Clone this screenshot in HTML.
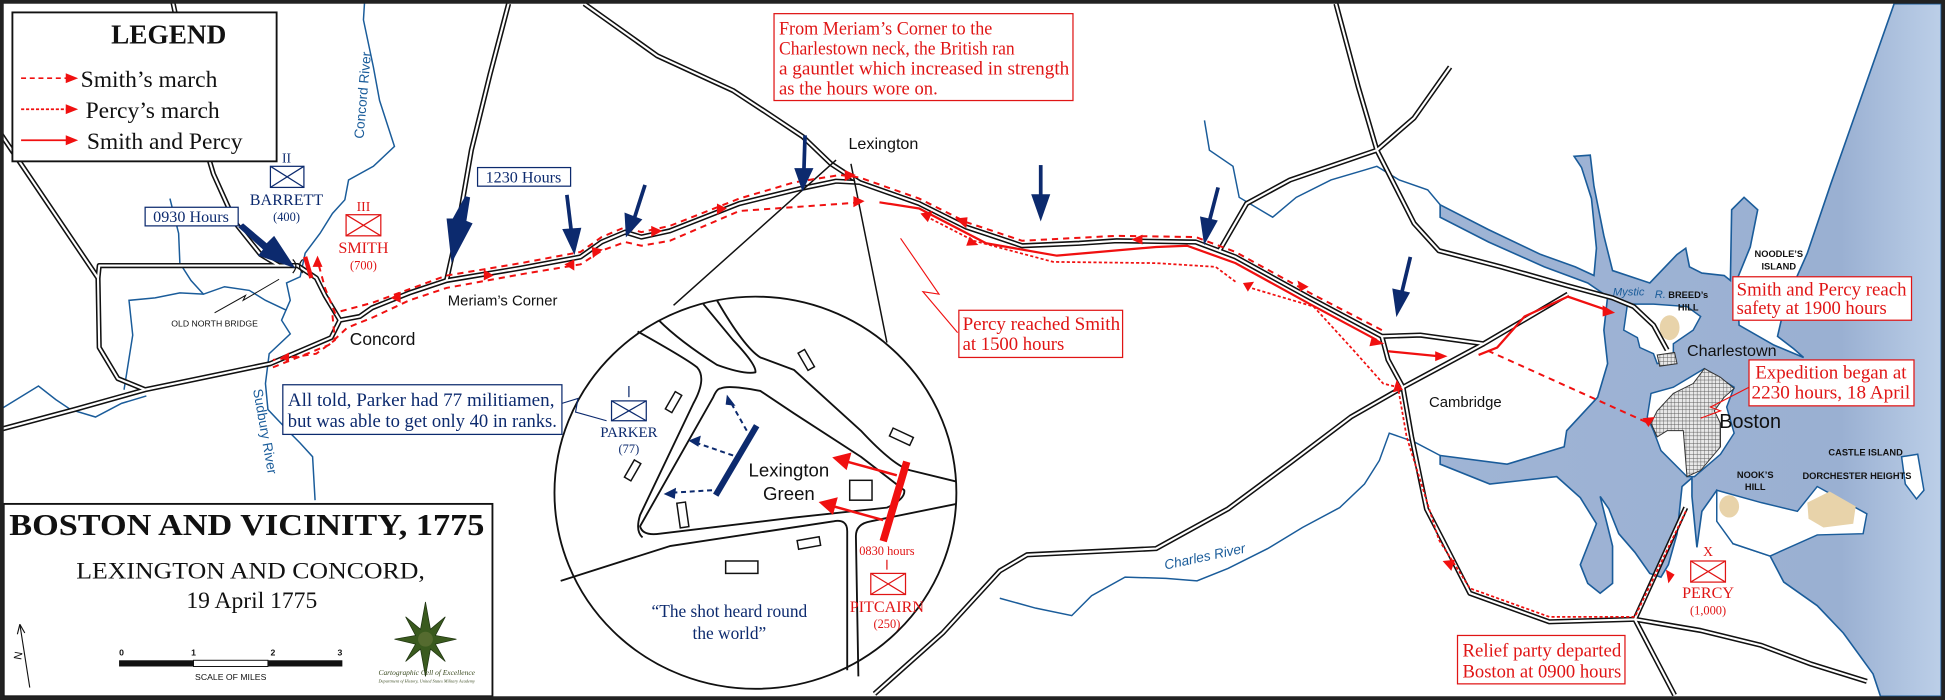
<!DOCTYPE html>
<html><head><meta charset="utf-8"><style>
html,body{margin:0;padding:0;background:#fff;}
svg{display:block;}
.sf{font-family:"Liberation Serif",serif;}
.ss{font-family:"Liberation Sans",sans-serif;}
</style></head><body>
<svg width="1945" height="700" viewBox="0 0 1568 564" preserveAspectRatio="none" xmlns="http://www.w3.org/2000/svg">
<defs>
<linearGradient id="sea" x1="0" y1="0" x2="1" y2="0">
<stop offset="0" stop-color="#9fb4d5"/><stop offset="0.8" stop-color="#9ab0d2"/><stop offset="1" stop-color="#bccfe8"/>
</linearGradient>
<pattern id="hatch" width="3" height="3" patternUnits="userSpaceOnUse">
<rect width="3" height="3" fill="#e8e8e8"/><path d="M0,0H3M0,0V3" stroke="#555" stroke-width="0.7"/>
</pattern>
<path id="r1" d="M0,346 L60,330 L117,314 L218,293 L267,272 L274,258 L290,255 L300,248 L330,236 L360,226 L420,216 L468,207 L485,195 L504,187 L517,191 L540,186 L596,164 L645,152 L674,146 L693,147 L741,164 L779,183 L824,198 L870,196 L900,194 L964,195 L996,207 L1056,240 L1114,271 L1145,270 L1196,277 L1264,237"/>
<path id="r2" d="M274,258 L262,238 L255,224 L240,214 L80,214 L79,224"/>
<path id="r3" d="M0,107 L79,224 L80,280 L95,305 L117,314"/>
<path id="r4" d="M139,0 L160,100 L172,140 L190,180 L210,205 L225,214"/>
<path id="r5" d="M360,226 L368,190 L380,121 L395,60 L410,3"/>
<path id="r6" d="M471,3 L530,45 L591,73 L620,92 L647,110 L670,132 L693,147"/>
<path id="r7" d="M1077,3 L1095,70 L1110,121 L1140,180 L1160,202 L1210,215 L1263,230 L1300,240 L1317,247 L1333,262 L1344,282"/>
<path id="r8" d="M1169,54 L1140,95 L1110,121 L1040,145 L1005,164 L983,202"/>
<path id="r9" d="M1114,271 L1119,290 L1131,312 L1089,336 L1040,373 L990,410 L932,442 L828,447 L806,460 L760,510 L705,559"/>
<path id="r10" d="M1131,312 L1196,277"/>
<path id="r11" d="M1131,312 L1138,352 L1150,410 L1163,435 L1185,478 L1249,501 L1318,499 L1359,409"/>
<path id="r12" d="M1318,499 L1350,560"/>
<path id="r13" d="M1318,499 L1371,508 L1420,520 L1460,535 L1505,549"/>
</defs>
<rect x="0" y="0" width="1568" height="564" fill="#fff"/>
<!-- water -->
<path d="M1527,3 L1565,3 L1565,561 L1516,561 L1510,543 L1486,510 L1465,488 L1438,469 L1427,448 L1397,438 L1395,428 L1403,411 L1384,395 L1372,412 L1368,441 L1364,400 L1364,385 L1356,392 L1352,430 L1345,455 L1339,465 L1330,462 L1318,445 L1305,430 L1297,410 L1290,400 L1300,440 L1300,470 L1290,478 L1280,470 L1274,455 L1287,422 L1274,401 L1255,384 L1201,390 L1161,374 L1161,367 L1215,374 L1261,360 L1263,347 L1288,320 L1296,293 L1293,266 L1296,239 L1280,228 L1245,215 L1200,195 L1161,175 L1161,165 L1200,185 L1242,205 L1270,215 L1285,222 L1287,200 L1283,160 L1275,135 L1269,126 L1282,125 L1285,150 L1293,190 L1300,218 L1330,228 L1352,205 L1359,200 L1362,215 L1372,220 L1390,222 L1395,226 L1396,169 L1406,159 L1417,169 L1411,199 L1400,226 L1402,262 L1430,278 L1454,288 L1446,281 L1433,271 L1436,258 L1449,222 L1457,204 L1476,148 Z" fill="url(#sea)" stroke="#1a5c9a" stroke-width="1.3"/>
<path d="M1312,245 L1333,245 L1360,247 L1371,255 L1365,266 L1349,277 L1349,290 L1336,293 L1333,285 L1322,280 L1320,272 L1309,266 Z" fill="#fff" stroke="#1a5c9a" stroke-width="1.2"/>
<path d="M1331,317 L1349,312 L1374,297 L1398,312 L1392,328 L1398,349 L1387,366 L1366,384 L1360,384 L1339,363 L1333,347 L1328,336 Z" fill="#fff" stroke="#1a5c9a" stroke-width="1.2"/>
<path d="M1384,395 L1420,405 L1449,412 L1465,392 L1505,414 L1502,430 L1465,431 L1427,448 L1397,438 L1384,420 Z" fill="#fff" stroke="#1a5c9a" stroke-width="1.2"/>
<path d="M1533,368 L1546,366 L1551,395 L1545,402 L1536,390 Z" fill="#fff" stroke="#1a5c9a" stroke-width="1.2"/>
<path d="M1374,297 L1387,304 L1398,313 L1390,320 L1382,331 L1387,341 L1387,360 L1371,379 L1360,384 L1357,347 L1344,347 L1336,352 L1331,341 L1336,331 L1349,317 L1365,309 Z" fill="url(#hatch)" stroke="#333" stroke-width="0.8"/>
<path d="M1336,286 L1350,284 L1352,293 L1338,295 Z" fill="url(#hatch)" stroke="#333" stroke-width="0.8"/>
<ellipse cx="1346" cy="264" rx="8" ry="10" fill="#e8d3aa"/>
<ellipse cx="1394" cy="408" rx="8" ry="9" fill="#e8d3aa"/>
<path d="M1457,405 L1475,396 L1496,408 L1494,422 L1470,425 L1458,418 Z" fill="#e8d3aa"/>
<!-- rivers -->
<g fill="none" stroke="#1a5c9a" stroke-width="1.2">
<path d="M294,0 L293,16 L301,54 L306,81 L318,118 L301,134 L281,145 L278,161 L268,172 L258,188 L246,204 L242,223 L231,228 L234,242 L227,258 L234,269 L217,285 L214,309 L216,330 L235,350 L242,357 L252,368 L254,403"/>
<path d="M137,160 L144,188 L145,212 L154,226 L164,237 L181,231 L201,234 L214,242 L231,250"/>
<path d="M100,314 L107,270 L104,242 L125,240 L145,236 L164,237"/>
<path d="M0,330 L31,311 L45,322 L57,330 L77,336 L98,325 L118,319"/>
<path d="M971,97 L975,121 L994,134 L999,159 L1026,175 L1045,159 L1073,145 L1100,137 L1110,134 L1128,145 L1151,153 L1161,165"/>
<path d="M806,482 L835,490 L864,496 L880,480 L907,465 L940,466 L965,468 L990,458 L1022,442 L1050,425 L1080,409 L1100,390 L1112,371 L1120,349 L1140,356 L1161,367"/>
</g>
<!-- roads -->
<g fill="none" stroke="#111" stroke-width="4.2" stroke-linejoin="round">
<use href="#r1"/><use href="#r2"/><use href="#r3"/><use href="#r4"/><use href="#r5"/><use href="#r6"/><use href="#r7"/><use href="#r8"/><use href="#r9"/><use href="#r10"/><use href="#r11"/><use href="#r12"/><use href="#r13"/>
</g>
<g fill="none" stroke="#fff" stroke-width="1.7" stroke-linejoin="round">
<use href="#r1"/><use href="#r2"/><use href="#r3"/><use href="#r4"/><use href="#r5"/><use href="#r6"/><use href="#r7"/><use href="#r8"/><use href="#r9"/><use href="#r10"/><use href="#r11"/><use href="#r12"/><use href="#r13"/>
</g>
<!-- inset cone -->
<path d="M674,129 L543,246 M686,132 L715,276" stroke="#111" stroke-width="1.2" fill="none"/>
<ellipse cx="609" cy="397" rx="162" ry="158" fill="#fff" stroke="#111" stroke-width="1.5"/>
<g fill="none" stroke="#111" stroke-width="1.5" stroke-linejoin="round">
<path d="M514,267 Q555,290 562,296 Q570,305 559,325 L516,415 Q512,428 518,433"/>
<path d="M531,258 Q548,275 578,294 Q600,302 609,300 Q610,294 591,274 L567,245"/>
<path d="M578,242 Q600,280 613,288 L640,298 L694,347 Q720,375 734,379 L771,388"/>
<path d="M581,313 Q587,310 613,315 L640,333 L694,368 L729,395 Q730,402 715,409 L640,417 L532,430 Q518,432 516,424 L575,320 Q578,313 581,313 Z"/>
<path d="M452,468 L540,440 L672,420 Q683,418 683,428 L683,540"/>
<path d="M692,545 L690,432 Q690,422 702,420 L771,406"/>
</g>
<g fill="#fff" stroke="#111" stroke-width="1.2">
<rect x="540" y="316" width="6" height="16" transform="rotate(30 543 324)"/>
<rect x="507" y="371" width="6" height="16" transform="rotate(30 510 379)"/>
<rect x="547" y="405" width="7" height="20" transform="rotate(-8 550 415)"/>
<rect x="647" y="282" width="6" height="16" transform="rotate(-30 650 290)"/>
<rect x="718" y="348" width="18" height="7" transform="rotate(25 726 351)"/>
<rect x="685" y="387" width="18" height="16"/>
<rect x="643" y="434" width="18" height="7" transform="rotate(-10 652 437)"/>
<rect x="585" y="452" width="26" height="10"/>
</g>
<!-- inset troops -->
<line x1="610" y1="343" x2="577" y2="399" stroke="#0c2a6e" stroke-width="5"/>
<g stroke="#0c2a6e" stroke-width="1.6" stroke-dasharray="4,3" fill="none">
<path d="M602,347 L589,324"/><path d="M591,367 L562,357"/><path d="M574,395 L541,397"/>
</g>
<g fill="#0c2a6e">
<path d="M586,318 L593,327 L585,326 Z"/><path d="M555,355 L565,351 L563,360 Z"/><path d="M535,398 L545,393 L544,402 Z"/>
</g>
<line x1="731" y1="372" x2="712" y2="436" stroke="#f01010" stroke-width="6"/>
<g stroke="#f01010" stroke-width="2" fill="#f01010">
<line x1="723" y1="383" x2="683" y2="372"/><path d="M673,369 L685,366 L682,377 Z"/>
<line x1="712" y1="419" x2="672" y2="408"/><path d="M662,405 L674,402 L671,413 Z"/>
</g>
<text x="636" y="384" class="ss" font-size="15" text-anchor="middle" fill="#111">Lexington</text>
<text x="636" y="403" class="ss" font-size="15" text-anchor="middle" fill="#111">Green</text>
<text x="715" y="447" class="sf" font-size="10" text-anchor="middle" fill="#e01515">0830 hours</text>
<line x1="715" y1="451" x2="715" y2="459" stroke="#e01515"/>
<g stroke="#e01515" fill="none" stroke-width="1"><rect x="702" y="462" width="28" height="17"/><path d="M702,462 L730,479 M730,462 L702,479"/></g>
<text x="715" y="493" class="sf" font-size="13" text-anchor="middle" fill="#e01515">PITCAIRN</text>
<text x="715" y="506" class="sf" font-size="10" text-anchor="middle" fill="#e01515">(250)</text>
<line x1="507" y1="311" x2="507" y2="320" stroke="#0c2a6e"/>
<g stroke="#0c2a6e" fill="none" stroke-width="1"><rect x="493" y="323" width="28" height="16"/><path d="M493,323 L521,339 M521,323 L493,339"/></g>
<text x="507" y="352" class="sf" font-size="12" text-anchor="middle" fill="#0c2a6e">PARKER</text>
<text x="507" y="365" class="sf" font-size="10" text-anchor="middle" fill="#0c2a6e">(77)</text>
<text x="588" y="497" class="sf" font-size="14" text-anchor="middle" fill="#0c2a6e">“The shot heard round</text>
<text x="588" y="515" class="sf" font-size="14" text-anchor="middle" fill="#0c2a6e">the world”</text>
<!-- parker note -->
<rect x="228" y="310" width="225" height="40" fill="#fff" stroke="#0c2a6e" stroke-width="1"/>
<text x="232" y="327" class="sf" font-size="15" fill="#0c2a6e" textLength="215" lengthAdjust="spacingAndGlyphs">All told, Parker had 77 militiamen,</text>
<text x="232" y="344" class="sf" font-size="15" fill="#0c2a6e" textLength="217" lengthAdjust="spacingAndGlyphs">but was able to get only 40 in ranks.</text>
<path d="M453,325 L466,321 L464,332 L489,339" stroke="#0c2a6e" fill="none" stroke-width="0.9"/>
<!-- red routes -->
<g fill="none" stroke="#f01010" stroke-width="1.6" stroke-dasharray="5,4">
<path d="M1327,340 L1196,281"/>
<path d="M1114,266 L1056,236 L996,203 L964,191 L900,190 L824,194 L779,179 L741,160 L693,143 L677,141 L640,147 L596,160 L540,182 L517,187 L504,183 L485,191 L468,203 L420,212 L360,222 L300,244 L270,252 L262,232 L256,210"/>
<path d="M220,296 L265,278 L280,264 L300,256 L330,242 L360,232 L420,221 L468,213 L485,202 L504,195 L517,198 L540,194 L596,170 L695,163"/>
<path d="M268,254 L270,274 L255,285 L220,290"/>
</g>
<g fill="none" stroke="#f01010" stroke-width="1.4" stroke-dasharray="2.5,1.8">
<path d="M1359,412 L1318,497 L1249,497 L1185,474 L1160,435 L1134,352 L1127,312 L1115,309 L1091,282 L1059,247 L1005,231"/>
<path d="M996,227 L980,215 L932,212 L849,211 L785,194 L744,173"/>
</g>
<g fill="none" stroke="#f01010" stroke-width="1.8">
<path d="M709,163 L741,168 L795,196 L852,206 L932,199 L957,198 L996,212 L1056,245 L1110,274"/>
<path d="M1119,283 L1160,287"/>
<path d="M1192,286 L1207,280 L1229,255 L1264,239 L1296,250"/>
</g>
<g fill="none" stroke="#f01010" stroke-width="0.9">
<path d="M726,192 L757,237 L744,235 L772,268"/>
<path d="M1410,312 L1379,328 L1387,331 L1371,337"/>
</g>
<line x1="246" y1="207" x2="251" y2="224" stroke="#f01010" stroke-width="3.5"/>
<g fill="#f01010">
<path d="M1324,337 L1334,336 L1329,344 Z"/>
<path d="M1167,287 L1157,283 L1157,291 Z"/>
<path d="M1302,252 L1292,246 L1292,255 Z"/>
<path d="M1116,277 L1106,271 L1104,279 Z"/>
<path d="M1126,306 L1123,316 L1131,314 Z"/>
<path d="M1170,460 L1163,452 L1173,451 Z"/>
<path d="M1345,470 L1343,459 L1350,463 Z"/>
<path d="M742,172 L752,170 L748,179 Z"/>
<path d="M1002,228 L1011,227 L1006,235 Z"/>
<path d="M1048,235 L1046,226 L1055,231 Z"/>
<path d="M912,193 L921,189 L921,197 Z"/>
<path d="M779,184 L770,176 L780,175 Z"/>
<path d="M789,196 L780,192 L780,200 Z" transform="rotate(20 785 196)"/>
<path d="M697,162 L688,158 L688,167 Z"/>
<path d="M690,141 L681,137 L681,146 Z"/>
<path d="M526,186 L535,181 L535,190 Z" transform="rotate(180 530 186)"/>
<path d="M478,205 L486,198 L487,207 Z" transform="rotate(180 482 203)"/>
<path d="M578,170 L586,165 L586,174 Z" transform="rotate(180 582 169)"/>
<path d="M256,206 L252,215 L260,215 Z"/>
<path d="M226,288 L233,284 L233,292 Z"/>
<path d="M315,240 L323,235 L323,244 Z"/>
<path d="M390,222 L398,218 L398,227 Z" transform="rotate(180 394 222)"/>
<path d="M455,213 L463,209 L463,218 Z"/>
</g>
<!-- militia arrows -->
<g stroke="#0c2a6e" stroke-width="3" fill="#0c2a6e">
<line x1="457" y1="157" x2="461" y2="190"/><path d="M454,185 L468,184 L463,204 Z" stroke-width="1"/>
<line x1="520" y1="149" x2="511" y2="177"/><path d="M504,172 L517,177 L505,190 Z" stroke-width="1"/>
<line x1="649" y1="109" x2="648" y2="140"/><path d="M641,136 L655,136 L647,153 Z" stroke-width="1"/>
<line x1="839" y1="133" x2="839" y2="160"/><path d="M832,157 L846,157 L839,177 Z" stroke-width="1"/>
<line x1="982" y1="151" x2="975" y2="178"/><path d="M968,175 L981,178 L971,196 Z" stroke-width="1"/>
<line x1="1137" y1="207" x2="1130" y2="236"/><path d="M1123,233 L1136,236 L1126,254 Z" stroke-width="1"/>
</g>
<path d="M375,158 L379,159 L376,178 L381,180 L364,212 L360,176 L365,176 Z" fill="#0c2a6e"/>
<path d="M192,183 L196,180 L215,196 L221,190 L238,216 L208,206 L212,201 Z" fill="#0c2a6e"/>
<path d="M236,209 Q241,214 236,220 M244,209 Q239,214 244,220" stroke="#111" fill="none" stroke-width="1"/>
<path d="M173,252 L198,238 L196,242 L225,225" stroke="#111" fill="none" stroke-width="0.8"/>
<!-- legend -->
<rect x="10" y="10" width="213" height="120" fill="#fff" stroke="#111" stroke-width="1.5"/>
<text x="136" y="35" class="sf" font-size="22" font-weight="bold" text-anchor="middle" fill="#111">LEGEND</text>
<g stroke="#f01010" stroke-width="1.4" fill="none">
<path d="M17,63 L56,63" stroke-dasharray="4,3"/>
<path d="M17,88 L56,88" stroke-dasharray="2.5,1.5"/>
<path d="M17,113 L56,113"/>
</g>
<g fill="#f01010"><path d="M53,59 L63,63 L53,67 Z"/><path d="M53,84 L63,88 L53,92 Z"/><path d="M53,109 L63,113 L53,117 Z"/></g>
<text x="65" y="70" class="sf" font-size="19" fill="#111">Smith’s march</text>
<text x="69" y="95" class="sf" font-size="19" fill="#111">Percy’s march</text>
<text x="70" y="120" class="sf" font-size="19" fill="#111">Smith and Percy</text>
<!-- units -->
<text x="231" y="131" class="sf" font-size="11" text-anchor="middle" fill="#0c2a6e">II</text>
<g stroke="#0c2a6e" fill="none"><rect x="218" y="134" width="27" height="17"/><path d="M218,134 L245,151 M245,134 L218,151"/></g>
<text x="231" y="165" class="sf" font-size="13" text-anchor="middle" fill="#0c2a6e">BARRETT</text>
<text x="231" y="178" class="sf" font-size="10" text-anchor="middle" fill="#0c2a6e">(400)</text>
<text x="293" y="170" class="sf" font-size="11" text-anchor="middle" fill="#e01515">III</text>
<g stroke="#e01515" fill="none"><rect x="279" y="173" width="28" height="17"/><path d="M279,173 L307,190 M307,173 L279,190"/></g>
<text x="293" y="204" class="sf" font-size="13" text-anchor="middle" fill="#e01515">SMITH</text>
<text x="293" y="217" class="sf" font-size="10" text-anchor="middle" fill="#e01515">(700)</text>
<text x="1377" y="448" class="sf" font-size="11" text-anchor="middle" fill="#e01515">X</text>
<g stroke="#e01515" fill="none"><rect x="1363" y="452" width="28" height="17"/><path d="M1363,452 L1391,469 M1391,452 L1363,469"/></g>
<text x="1377" y="482" class="sf" font-size="13" text-anchor="middle" fill="#e01515">PERCY</text>
<text x="1377" y="495" class="sf" font-size="10" text-anchor="middle" fill="#e01515">(1,000)</text>
<!-- blue boxes -->
<rect x="117" y="167" width="75" height="15" fill="#fff" stroke="#0c2a6e"/>
<text x="154" y="179" class="sf" font-size="13" text-anchor="middle" fill="#0c2a6e">0930 Hours</text>
<rect x="385" y="135" width="75" height="15" fill="#fff" stroke="#0c2a6e"/>
<text x="422" y="147" class="sf" font-size="13" text-anchor="middle" fill="#0c2a6e">1230 Hours</text>
<!-- red boxes -->
<g fill="#fff" stroke="#e01515" stroke-width="1">
<rect x="624" y="11" width="241" height="70"/>
<rect x="773" y="250" width="132" height="38"/>
<rect x="1397" y="223" width="144" height="35"/>
<rect x="1410" y="290" width="133" height="37"/>
<rect x="1175" y="512" width="135" height="39"/>
</g>
<g class="sf" fill="#e01515" font-size="15">
<text x="628" y="28" textLength="172" lengthAdjust="spacingAndGlyphs">From Meriam’s Corner to the</text>
<text x="628" y="44" textLength="190" lengthAdjust="spacingAndGlyphs">Charlestown neck, the British ran</text>
<text x="628" y="60" textLength="234" lengthAdjust="spacingAndGlyphs">a gauntlet which increased in strength</text>
<text x="628" y="76" textLength="128" lengthAdjust="spacingAndGlyphs">as the hours wore on.</text>
<text x="776" y="266" textLength="127" lengthAdjust="spacingAndGlyphs">Percy reached Smith</text>
<text x="776" y="282" textLength="82" lengthAdjust="spacingAndGlyphs">at 1500 hours</text>
<text x="1400" y="238" textLength="137" lengthAdjust="spacingAndGlyphs">Smith and Percy reach</text>
<text x="1400" y="253" textLength="121" lengthAdjust="spacingAndGlyphs">safety at 1900 hours</text>
<text x="1415" y="305" textLength="122" lengthAdjust="spacingAndGlyphs">Expedition began at</text>
<text x="1412" y="321" textLength="128" lengthAdjust="spacingAndGlyphs">2230 hours, 18 April</text>
<text x="1179" y="529" textLength="128" lengthAdjust="spacingAndGlyphs">Relief party departed</text>
<text x="1179" y="546" textLength="128" lengthAdjust="spacingAndGlyphs">Boston at 0900 hours</text>
</g>
<!-- place labels -->
<g class="ss" fill="#111">
<text x="684" y="120" font-size="13">Lexington</text>
<text x="361" y="246" font-size="12">Meriam’s Corner</text>
<text x="282" y="278" font-size="14">Concord</text>
<text x="1152" y="328" font-size="12">Cambridge</text>
<text x="1360" y="287" font-size="13">Charlestown</text>
<text x="1386" y="345" font-size="16">Boston</text>
<text x="173" y="263" font-size="7" text-anchor="middle">OLD NORTH BRIDGE</text>
<text x="1361" y="240" font-size="7.5" font-weight="bold" text-anchor="middle">BREED’s</text>
<text x="1361" y="250" font-size="7.5" font-weight="bold" text-anchor="middle">HILL</text>
<text x="1434" y="207" font-size="7.5" font-weight="bold" text-anchor="middle">NOODLE’S</text>
<text x="1434" y="217" font-size="7.5" font-weight="bold" text-anchor="middle">ISLAND</text>
<text x="1504" y="367" font-size="7.5" font-weight="bold" text-anchor="middle">CASTLE ISLAND</text>
<text x="1497" y="386" font-size="7.5" font-weight="bold" text-anchor="middle">DORCHESTER HEIGHTS</text>
<text x="1415" y="385" font-size="7.5" font-weight="bold" text-anchor="middle">NOOK’S</text>
<text x="1415" y="395" font-size="7.5" font-weight="bold" text-anchor="middle">HILL</text>
</g>
<g class="ss" fill="#1a5c9a" font-style="italic">
<text x="1313" y="238" font-size="9" text-anchor="middle">Mystic</text>
<text x="1334" y="240" font-size="9">R.</text>
<text x="972" y="452" font-size="11" text-anchor="middle" transform="rotate(-12 972 452)">Charles   River</text>
</g>
<g class="ss" fill="#1a5c9a" font-size="11">
<text transform="translate(293,112) rotate(-85)">Concord   River</text>
<text transform="translate(204,314) rotate(80)">Sudbury    River</text>
</g>
<!-- title box -->
<rect x="3" y="406" width="394" height="155" fill="#fff" stroke="#111" stroke-width="1.5"/>
<text x="199" y="431" class="sf" font-size="25" font-weight="bold" text-anchor="middle" textLength="383" lengthAdjust="spacingAndGlyphs" fill="#111">BOSTON AND VICINITY, 1775</text>
<text x="202" y="466" class="sf" font-size="19" text-anchor="middle" textLength="281" lengthAdjust="spacingAndGlyphs" fill="#111">LEXINGTON AND CONCORD,</text>
<text x="203" y="490" class="sf" font-size="19" text-anchor="middle" fill="#111">19 April 1775</text>
<rect x="96" y="532" width="60" height="5" fill="#111"/>
<rect x="156" y="532" width="60" height="5" fill="#fff" stroke="#111" stroke-width="0.8"/>
<rect x="216" y="532" width="60" height="5" fill="#111"/>
<g class="ss" font-size="7" font-weight="bold" fill="#111" text-anchor="middle">
<text x="98" y="528">0</text><text x="156" y="528">1</text><text x="220" y="528">2</text><text x="274" y="528">3</text>
<text x="186" y="548" font-weight="normal">SCALE OF MILES</text>
</g>
<line x1="16" y1="503" x2="24" y2="554" stroke="#111" stroke-width="0.9"/>
<path d="M16,503 L14,511 M16,503 L20,510" stroke="#111" stroke-width="0.9"/>
<text x="0" y="0" class="ss" font-size="9" fill="#111" transform="translate(17,532) rotate(-80)">N</text>
<g transform="translate(343,515)">
<path d="M0,-30 L4,-8 L16,-18 L8,-3 L25,0 L8,4 L16,18 L4,8 L0,30 L-4,8 L-16,18 L-8,4 L-25,0 L-8,-3 L-16,-18 L-4,-8 Z" fill="#3a5a1e" stroke="#1e3310" stroke-width="0.6"/>
<circle r="6" fill="#556b2f"/>
</g>
<text x="344" y="544" class="sf" font-size="6" font-style="italic" text-anchor="middle" fill="#3a4a20">Cartographic Cell of Excellence</text>
<text x="344" y="550" class="sf" font-size="3.5" font-style="italic" text-anchor="middle" fill="#3a4a20">Department of History, United States Military Academy</text>
<!-- frame -->
<rect x="1.5" y="1.5" width="1565" height="561" fill="none" stroke="#222" stroke-width="3"/>
</svg>
</body></html>
